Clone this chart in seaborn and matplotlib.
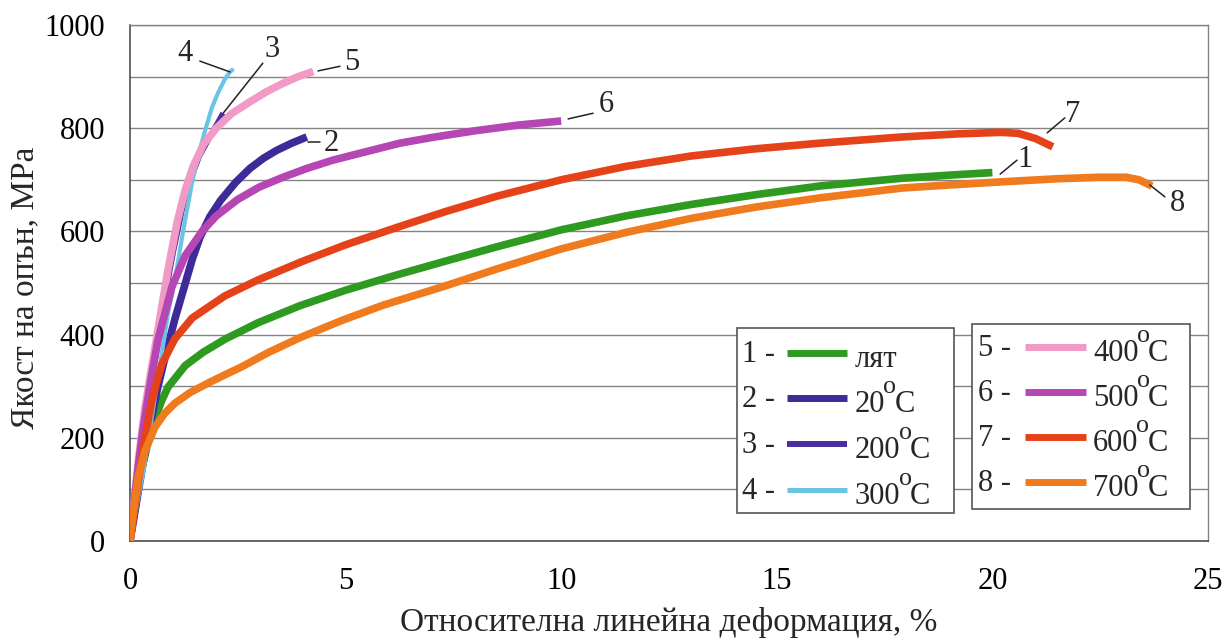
import matplotlib
matplotlib.use("Agg")
import matplotlib.pyplot as plt
import matplotlib.transforms as mtransforms
from matplotlib.lines import Line2D
from matplotlib.patches import Rectangle
from matplotlib.ticker import MultipleLocator
import numpy as np
import pandas as pd
import seaborn as sns

# ---- measured tensile curves: strain (%) and stress (MPa) ----
strain_1 = [0, 0.1, 0.2, 0.3, 0.5, 0.74, 0.88, 1.28, 1.7, 2.2, 2.97, 3.94, 5.0, 6.2,
            7.3, 8.5, 10.0, 11.5, 13.0, 14.5, 16.0, 17.9, 19.0, 20.0]
stress_1 = [0, 60, 110, 150, 220, 273, 298, 340, 366, 391, 423, 456, 486, 516,
            542, 570, 603, 630, 652, 671, 688, 703, 709, 714]

strain_2 = [0, 0.1, 0.2, 0.3, 0.5, 0.65, 0.81, 1.04, 1.25, 1.44, 1.62, 1.85, 2.1,
            2.45, 2.78, 3.1, 3.4, 3.75, 4.1]
stress_2 = [0, 50, 100, 150, 240, 300, 355, 430, 490, 545, 588, 628, 660,
            695, 722, 742, 757, 771, 783]

strain_3 = [0, 0.2, 0.4, 0.6, 0.8, 1.0, 1.2, 1.4, 1.6, 1.81, 2.0, 2.16]
stress_3 = [0, 130, 250, 365, 470, 560, 640, 700, 745, 777, 805, 829]

strain_4 = [0, 0.15, 0.3, 0.45, 0.6, 0.75, 0.88, 1.04, 1.23, 1.44, 1.6, 1.74, 1.9,
            2.05, 2.2, 2.32, 2.4]
stress_4 = [0, 65, 130, 210, 290, 370, 440, 505, 600, 695, 752, 795, 840,
            870, 895, 909, 915]

strain_5 = [0, 0.1, 0.2, 0.35, 0.5, 0.65, 0.88, 1.1, 1.28, 1.46, 1.7, 2.0, 2.35,
            2.78, 3.15, 3.55, 3.9, 4.25]
stress_5 = [0, 80, 160, 260, 335, 410, 525, 620, 680, 725, 768, 800, 828,
            851, 870, 887, 900, 910]

strain_6 = [0, 0.1, 0.2, 0.3, 0.46, 0.65, 0.97, 1.28, 1.67, 2.0, 2.5, 3.0, 3.55,
            4.1, 4.7, 5.5, 6.26, 7.0, 8.0, 9.0, 10.0]
stress_6 = [0, 75, 150, 215, 300, 390, 492, 553, 600, 630, 662, 686, 705,
            722, 738, 755, 771, 782, 795, 806, 814]

strain_7 = [0, 0.1, 0.2, 0.35, 0.5, 0.65, 0.74, 1.04, 1.44, 2.2, 2.97, 4.0, 5.0,
            6.2, 7.3, 8.5, 10.0, 11.5, 13.0, 14.5, 16.0, 17.9, 19.2, 20.2, 20.6,
            21.0, 21.4]
stress_7 = [0, 60, 120, 200, 270, 318, 343, 392, 432, 475, 506, 542, 574,
            608, 638, 668, 700, 726, 746, 760, 771, 783, 789, 792, 790,
            780, 764]

strain_8 = [0, 0.05, 0.19, 0.35, 0.58, 0.8, 1.04, 1.4, 1.81, 2.2, 2.6, 3.2, 3.94,
            4.9, 5.87, 7.3, 8.5, 10.0, 11.5, 13.0, 14.5, 16.0, 17.9, 19.0, 20.2,
            21.5, 22.5, 23.1, 23.4, 23.7]
stress_8 = [0, 40, 124, 175, 221, 247, 267, 288, 306, 322, 338, 365, 394,
            427, 457, 494, 527, 566, 598, 625, 647, 665, 684, 690, 696,
            702, 705, 705, 700, 688]

series_ids = ["1", "2", "3", "4", "5", "6", "7", "8"]
series_names = ["лят", "20", "200", "300", "400", "500", "600", "700"]
temperature_suffix = [False, True, True, True, True, True, True, True]
strains = [strain_1, strain_2, strain_3, strain_4, strain_5, strain_6, strain_7, strain_8]
stresses = [stress_1, stress_2, stress_3, stress_4, stress_5, stress_6, stress_7, stress_8]

x_ticks = [0, 5, 10, 15, 20, 25]
y_ticks = [0, 200, 400, 600, 800, 1000]

# curve label text positions (strain, stress) and leader line ends
label_text_pos = {"1": (20.76, 740), "2": (4.66, 771), "3": (3.29, 952), "4": (1.28, 945),
                  "5": (5.15, 928), "6": (11.04, 845), "7": (21.87, 826), "8": (24.3, 655)}
leader_from = {"1": (20.18, 711), "2": (4.13, 773), "3": (2.16, 829), "4": (2.32, 909),
               "5": (4.36, 911), "6": (10.16, 818), "7": (21.27, 791), "8": (23.65, 690)}
leader_to = {"1": (20.57, 738), "2": (4.41, 773), "3": (3.08, 926), "4": (1.62, 930),
             "5": (4.87, 920), "6": (10.74, 829), "7": (21.68, 820), "8": (24.0, 667)}

# ---- styling ----
colors = ["#2e9a20", "#3e2a98", "#4b2da0", "#6cc4e4", "#f19ac6", "#b546b4",
          "#e6421a", "#f07a1e"]
widths = [5.5, 5.5, 4.2, 3.0, 5.5, 5.5, 5.5, 5.5]
legend_widths = [5.0, 5.0, 4.3, 3.6, 5.0, 5.0, 5.0, 5.0]

sns.set_style("white")
plt.rcParams["font.family"] = ["Liberation Serif", "DejaVu Serif"]

W, H = 1226, 640
fig = plt.figure(figsize=(W / 100, H / 100), dpi=100)
L, R, B, T = 130, 1208, 541, 25
ax = fig.add_axes([L / W, (H - B) / H, (R - L) / W, (B - T) / H])

frames = []
for sid, xs, ys in zip(series_ids, strains, stresses):
    frames.append(pd.DataFrame({"strain": xs, "stress": ys, "curve": sid}))
data = pd.concat(frames, ignore_index=True)

for sid, col, lw in zip(series_ids, colors, widths):
    sub = data[data["curve"] == sid]
    sns.lineplot(data=sub, x="strain", y="stress", sort=False, estimator=None,
                 color=col, lw=lw, ax=ax, solid_capstyle="butt",
                 solid_joinstyle="round", zorder=3)

ax.set_xlim(0, 25)
ax.set_ylim(0, 1000)
ax.set_xticks(x_ticks)
ax.set_yticks(y_ticks)
ax.yaxis.set_minor_locator(MultipleLocator(100))
ax.grid(False)
ax.yaxis.grid(True, which="both", color="#848484", lw=1.0)
ax.set_axisbelow(True)

for side in ["top", "right"]:
    ax.spines[side].set_color("#848484")
    ax.spines[side].set_linewidth(1.0)
for side in ["left", "bottom"]:
    ax.spines[side].set_color("#404040")
    ax.spines[side].set_linewidth(1.1)

ax.tick_params(axis="both", which="both", direction="out", length=6, width=1.0,
               color="#404040", labelsize=22, labelcolor="black")
ax.tick_params(axis="x", pad=13)
ax.tick_params(axis="y", pad=12)
ax.tick_params(axis="x", which="minor", bottom=False)

ax.set_xlabel("Относителна линейна деформация, %", fontsize=24, labelpad=8)
ax.set_ylabel("Якост на опън, MPa", fontsize=24)
ax.yaxis.set_label_coords((40 - L) / (R - L), 0.49)

# curve number labels with leader lines
for sid in series_ids:
    (x0, y0), (x1, y1) = leader_from[sid], leader_to[sid]
    ax.add_line(Line2D([x0, x1], [y0, y1], color="#222222", lw=1.1, zorder=4))
    tx, ty = label_text_pos[sid]
    ax.text(tx, ty, sid, fontsize=22, ha="center", va="center", zorder=5)


# ---- two framed legend blocks ----
def ax_x(px):
    return (px - L) / (R - L)


def ax_y(py):
    return (B - py) / (B - T)


renderer = fig.canvas.get_renderer()


def degree_label(x, y, digits, fs):
    """Write e.g. 400 with a raised 'o' and a trailing C."""
    t1 = ax.text(x, y, digits, fontsize=fs, ha="left", va="baseline",
                 transform=ax.transAxes, zorder=7)
    w1 = t1.get_window_extent(renderer).width
    tr_o = mtransforms.offset_copy(ax.transAxes, fig=fig, x=w1 - 2, y=19, units="dots")
    t2 = ax.text(x, y, "o", fontsize=fs * 0.85, ha="left", va="baseline",
                 transform=tr_o, zorder=7)
    w2 = t2.get_window_extent(renderer).width
    tr_c = mtransforms.offset_copy(ax.transAxes, fig=fig, x=w1 + w2 - 4, y=0, units="dots")
    ax.text(x, y, "C", fontsize=fs, ha="left", va="baseline", transform=tr_c, zorder=7)


blocks = [
    dict(box=(737, 328, 954, 513), num_x=742, h0=787, h1=847, text_x=855,
         rows=[353, 398, 444, 490], members=[0, 1, 2, 3]),
    dict(box=(972, 324, 1190, 509), num_x=978, h0=1025, h1=1086, text_x=1093,
         rows=[347, 392, 437, 482], members=[4, 5, 6, 7]),
]
for blk in blocks:
    x0, y0, x1, y1 = blk["box"]
    ax.add_patch(Rectangle((ax_x(x0), ax_y(y1)), ax_x(x1) - ax_x(x0), ax_y(y0) - ax_y(y1),
                           transform=ax.transAxes, facecolor="white", edgecolor="#555555",
                           lw=1.2, zorder=6))
    for py, i in zip(blk["rows"], blk["members"]):
        ax.text(ax_x(blk["num_x"]), ax_y(py + 9), f"{series_ids[i]} -", fontsize=22,
                ha="left", va="baseline", transform=ax.transAxes, zorder=7)
        ax.add_line(Line2D([ax_x(blk["h0"]), ax_x(blk["h1"])], [ax_y(py), ax_y(py)],
                           color=colors[i], lw=legend_widths[i], transform=ax.transAxes,
                           solid_capstyle="butt", zorder=7))
        if temperature_suffix[i]:
            degree_label(ax_x(blk["text_x"]), ax_y(py + 14), series_names[i], 22)
        else:
            ax.text(ax_x(blk["text_x"]), ax_y(py + 14), series_names[i], fontsize=22,
                    ha="left", va="baseline", transform=ax.transAxes, zorder=7)

fig.savefig("out.png", dpi=100)
